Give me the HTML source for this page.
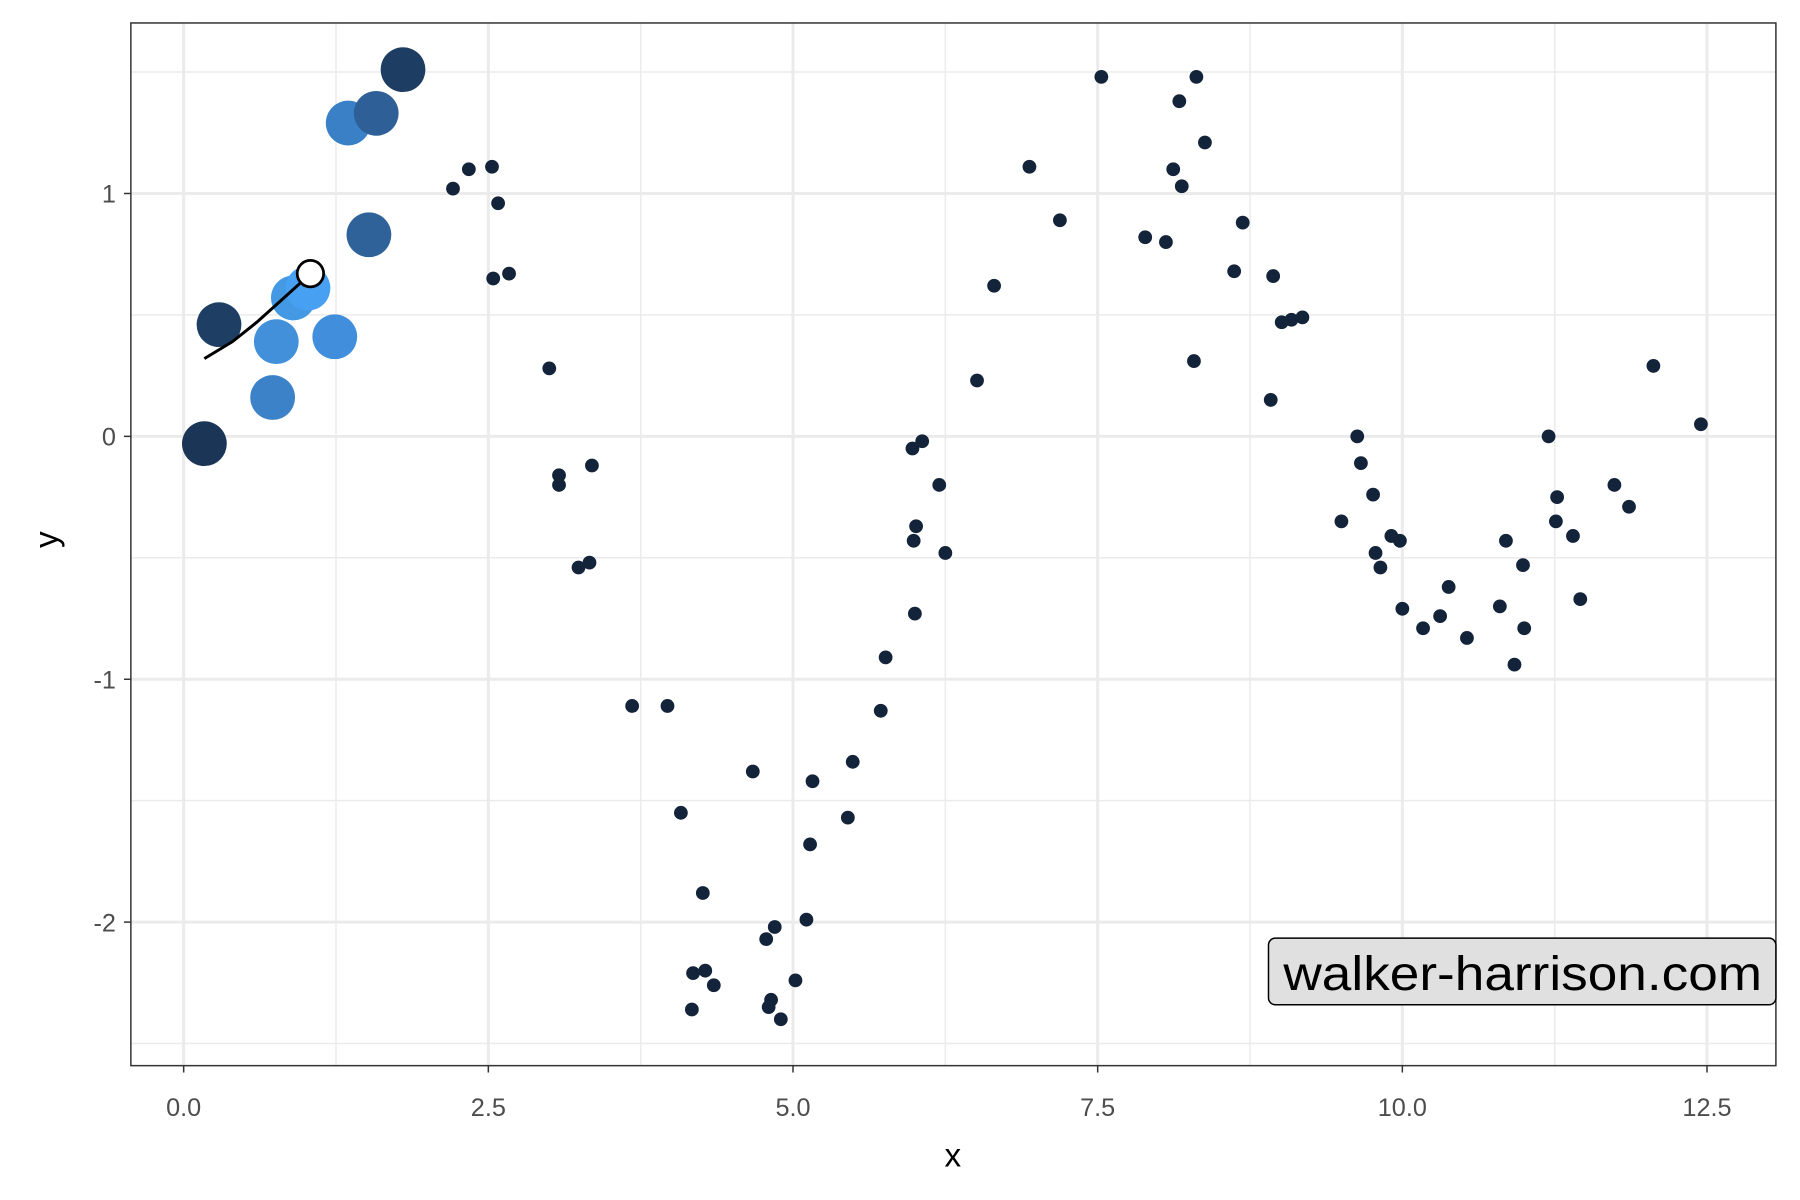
<!DOCTYPE html>
<html><head><meta charset="utf-8"><style>
html,body{margin:0;padding:0;background:#fff;}
svg{display:block;}
text{font-family:"Liberation Sans",Arial,sans-serif;}
</style></head>
<body>
<svg id="chart" width="1800" height="1200" viewBox="0 0 1568 1045" preserveAspectRatio="none" xmlns="http://www.w3.org/2000/svg">
<rect x="0" y="0" width="1568" height="1045" fill="#fff"/>
<g id="grid"></g>
<g id="marks"></g>
<rect x="114" y="20" width="1433" height="908" fill="none" stroke="#333" stroke-width="1.3"/>
<g id="axes"></g>
<g>
<rect x="1105" y="817" width="442" height="58" rx="6" ry="6" fill="#e0e0e0" stroke="#000" stroke-width="1.3"/>
<text x="1118" y="862" font-size="42" textLength="417" lengthAdjust="spacingAndGlyphs" fill="#000">walker-harrison.com</text>
</g>
<text x="830" y="1016" font-size="29" fill="#000" text-anchor="middle">x</text>
<text x="50" y="470" font-size="29" fill="#000" text-anchor="middle" transform="rotate(-90 50 470)">y</text>
</svg>
<script>
const xTicks = [0, 2.5, 5, 7.5, 10, 12.5];
const xTickLabels = ["0.0", "2.5", "5.0", "7.5", "10.0", "12.5"];
const yTicks = [-2, -1, 0, 1];
const yTickLabels = ["-2", "-1", "0", "1"];
const xMinor = [1.25, 3.75, 6.25, 8.75, 11.25];
const yMinor = [-2.5, -1.5, -0.5, 0.5, 1.5];

const bigX = [0.17, 0.29, 0.73, 0.76, 0.90, 1.02, 1.24, 1.35, 1.58, 1.52, 1.80];
const bigY = [-0.03, 0.46, 0.16, 0.39, 0.57, 0.61, 0.41, 1.29, 1.33, 0.83, 1.51];
const bigColors = ["#1b3556", "#1e3f63", "#3b82c8", "#4290d9", "#4499e4", "#48a0f2", "#418fdc", "#3a80c6", "#2e5f96", "#2e6299", "#1e3d62"];

const smallX = [2.21,2.34,2.53,2.58,2.54,2.67,3.00,3.08,3.08,3.35,3.24,3.33,3.68,3.97,4.08,4.26,4.18,4.28,4.35,4.17,4.67,5.16,5.14,5.49,5.45,4.78,4.85,5.11,5.02,4.82,4.80,4.90,5.72,5.76,6.00,5.99,6.01,5.98,6.06,6.20,6.25,6.51,6.65,6.94,7.19,7.53,7.89,8.06,8.12,8.17,8.19,8.31,8.38,8.29,8.62,8.69,8.94,9.01,9.09,9.18,8.92,9.50,9.63,9.66,9.76,9.78,9.82,9.91,9.98,10.00,10.17,10.31,10.38,10.53,10.85,10.80,10.92,10.99,11.00,11.20,11.26,11.27,11.40,11.46,11.74,11.86,12.06,12.45];
const smallY = [1.02,1.10,1.11,0.96,0.65,0.67,0.28,-0.16,-0.20,-0.12,-0.54,-0.52,-1.11,-1.11,-1.55,-1.88,-2.21,-2.20,-2.26,-2.36,-1.38,-1.42,-1.68,-1.34,-1.57,-2.07,-2.02,-1.99,-2.24,-2.32,-2.35,-2.40,-1.13,-0.91,-0.73,-0.43,-0.37,-0.05,-0.02,-0.20,-0.48,0.23,0.62,1.11,0.89,1.48,0.82,0.80,1.10,1.38,1.03,1.48,1.21,0.31,0.68,0.88,0.66,0.47,0.48,0.49,0.15,-0.35,0.00,-0.11,-0.24,-0.48,-0.54,-0.41,-0.43,-0.71,-0.79,-0.74,-0.62,-0.83,-0.43,-0.70,-0.94,-0.53,-0.79,0.00,-0.35,-0.25,-0.41,-0.67,-0.20,-0.29,0.29,0.05];

const trailX = [0.17, 0.40, 0.60, 0.80, 1.02];
const trailY = [0.32, 0.39, 0.47, 0.56, 0.66];
const currentX = [1.04];
const currentY = [0.67];

const NS = "http://www.w3.org/2000/svg";
const L = 114, R = 1547, T = 20, B = 928;
function sx(v){ return 160 + v * 106.16; }
function sy(v){ return 380 - v * 211.5; }
function mk(tag, attrs, parent){
  const e = document.createElementNS(NS, tag);
  for (const k in attrs) e.setAttribute(k, attrs[k]);
  parent.appendChild(e);
  return e;
}
const grid = document.getElementById('grid');
const marks = document.getElementById('marks');
const axes = document.getElementById('axes');

xMinor.forEach(v => {
  const l = mk('line', {x1: sx(v), x2: sx(v), y1: T, y2: B, stroke: '#ebebeb', 'stroke-width': 1.3}, grid);
  
  
});
yMinor.forEach(v => {
  const l = mk('line', {x1: L, x2: R, y1: sy(v), y2: sy(v), stroke: '#ebebeb', 'stroke-width': 1.3}, grid);
  
  
});
xTicks.forEach((v, i) => {
  const l = mk('line', {x1: sx(v), x2: sx(v), y1: T, y2: B, stroke: '#ebebeb', 'stroke-width': 2.6}, grid);
  
  
  const t = mk('line', {x1: sx(v), x2: sx(v), y1: B, y2: B + 6, stroke: '#333', 'stroke-width': 1.3}, axes);
  
  
  const tx = mk('text', {x: sx(v), y: 972, 'font-size': 22, fill: '#4d4d4d', 'text-anchor': 'middle'}, axes);
  tx.textContent = xTickLabels[i];
  
  
});
yTicks.forEach((v, i) => {
  const l = mk('line', {x1: L, x2: R, y1: sy(v), y2: sy(v), stroke: '#ebebeb', 'stroke-width': 2.6}, grid);
  
  
  const t = mk('line', {x1: L - 6, x2: L, y1: sy(v), y2: sy(v), stroke: '#333', 'stroke-width': 1.3}, axes);
  
  
  const tx = mk('text', {x: 101, y: sy(v) + 8, 'font-size': 22, fill: '#4d4d4d', 'text-anchor': 'end'}, axes);
  tx.textContent = yTickLabels[i];
  
  
});

smallX.forEach((v, i) => {
  const c = mk('circle', {cx: sx(v), cy: sy(smallY[i]), r: 6, fill: '#132339'}, marks);
  
  
});
bigX.forEach((v, i) => {
  const c = mk('circle', {cx: sx(v), cy: sy(bigY[i]), r: 19.5, fill: bigColors[i]}, marks);
  
  
});
let d = '';
trailX.forEach((v, i) => { d += (i ? 'L' : 'M') + sx(v).toFixed(1) + ' ' + sy(trailY[i]).toFixed(1) + ' '; });
const path = mk('path', {d: d, fill: 'none', stroke: '#000', 'stroke-width': 2.6, 'stroke-linejoin': 'round'}, marks);


const cur = mk('circle', {cx: sx(currentX[0]), cy: sy(currentY[0]), r: 11.5, fill: '#fff', stroke: '#000', 'stroke-width': 2.4}, marks);


</script>
</body></html>
